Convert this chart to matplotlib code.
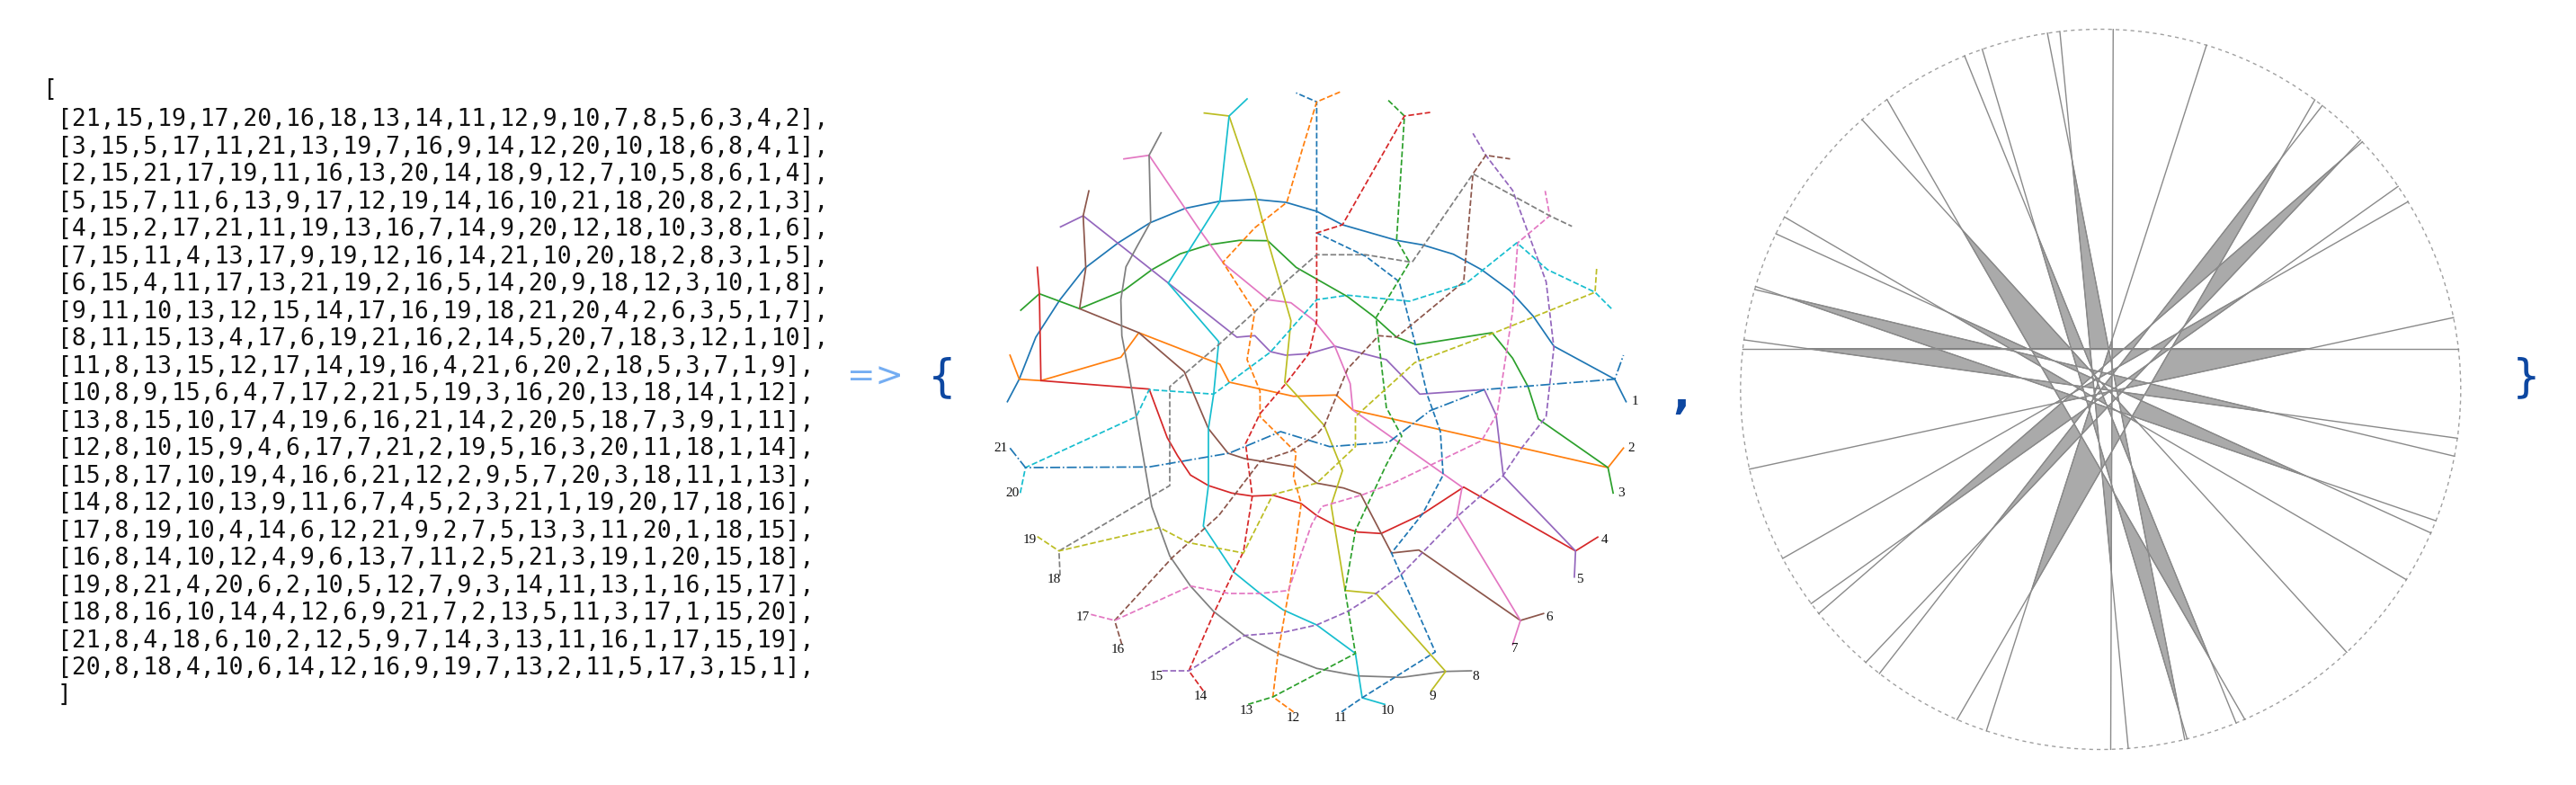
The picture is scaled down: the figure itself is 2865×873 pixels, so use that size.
import numpy as np
import matplotlib
matplotlib.use('Agg')
import matplotlib.pyplot as plt
from matplotlib.patches import Polygon, Circle
from itertools import combinations

# ---------------- data ----------------
matrix_rows = [
    [21,15,19,17,20,16,18,13,14,11,12,9,10,7,8,5,6,3,4,2],
    [3,15,5,17,11,21,13,19,7,16,9,14,12,20,10,18,6,8,4,1],
    [2,15,21,17,19,11,16,13,20,14,18,9,12,7,10,5,8,6,1,4],
    [5,15,7,11,6,13,9,17,12,19,14,16,10,21,18,20,8,2,1,3],
    [4,15,2,17,21,11,19,13,16,7,14,9,20,12,18,10,3,8,1,6],
    [7,15,11,4,13,17,9,19,12,16,14,21,10,20,18,2,8,3,1,5],
    [6,15,4,11,17,13,21,19,2,16,5,14,20,9,18,12,3,10,1,8],
    [9,11,10,13,12,15,14,17,16,19,18,21,20,4,2,6,3,5,1,7],
    [8,11,15,13,4,17,6,19,21,16,2,14,5,20,7,18,3,12,1,10],
    [11,8,13,15,12,17,14,19,16,4,21,6,20,2,18,5,3,7,1,9],
    [10,8,9,15,6,4,7,17,2,21,5,19,3,16,20,13,18,14,1,12],
    [13,8,15,10,17,4,19,6,16,21,14,2,20,5,18,7,3,9,1,11],
    [12,8,10,15,9,4,6,17,7,21,2,19,5,16,3,20,11,18,1,14],
    [15,8,17,10,19,4,16,6,21,12,2,9,5,7,20,3,18,11,1,13],
    [14,8,12,10,13,9,11,6,7,4,5,2,3,21,1,19,20,17,18,16],
    [17,8,19,10,4,14,6,12,21,9,2,7,5,13,3,11,20,1,18,15],
    [16,8,14,10,12,4,9,6,13,7,11,2,5,21,3,19,1,20,15,18],
    [19,8,21,4,20,6,2,10,5,12,7,9,3,14,11,13,1,16,15,17],
    [18,8,16,10,14,4,12,6,9,21,7,2,13,5,11,3,17,1,15,20],
    [21,8,4,18,6,10,2,12,5,9,7,14,3,13,11,16,1,17,15,19],
    [20,8,18,4,10,6,14,12,16,9,19,7,13,2,11,5,17,3,15,1],
]

# middle drawing: one traced polyline per curve (stub end, fork, ..., fork, stub end)
curve_paths = [
    [(1808.5,446.7),(1795.9,421.7),(1728.2,385),(1705.3,351.7),(1679.5,323.3),(1647.9,300),
     (1616.4,282.7),(1582,272.3),(1553.3,267.3),(1493.1,250),(1464.4,235),(1430,225),
     (1395.6,221.7),(1355.5,224),(1318.2,231.7),(1279.2,247.7),(1243.7,270),(1206.4,298.3),
     (1178.9,333.3),(1152,375),(1133.6,421.7),(1120.4,446.7)],
    [(1805.6,498.3),(1788.4,520),(1670.9,493.3),(1504.6,456),(1486.2,439.3),(1438.6,440.7),
     (1367,425),(1356.7,405),(1266.6,370),(1246.6,397.3),(1157.7,423.3),(1133.6,421.7),(1123.3,395)],
    [(1794.1,548.3),(1788.4,520),(1711,466),(1699.5,430),(1682.3,398.3),(1659.4,370),
     (1575.1,383.3),(1553.3,375),(1527.5,351.7),(1498.9,330),(1441.5,297.3),(1410,267.7),
     (1378.4,267.3),(1344,272.3),(1312.5,282.3),(1281,300),(1249.4,323.3),(1200.7,343.3),
     (1156,326.7),(1135.3,345)],
    [(1777,597.3),(1752.3,612.7),(1627.9,541.7),(1582,571.7),(1536.1,593.3),(1510.3,591.7),
     (1484.5,584),(1464.4,573.3),(1447.2,560),(1415.7,550.7),(1392.8,551.7),(1369.8,548.3),
     (1344,540),(1324,528.3),(1309.6,506.7),(1298.2,486.7),(1278.1,432.7),(1157.7,423.3),
     (1156,326.7),(1153.7,297.3)],
    [(1751,641.7),(1752.3,612.7),(1672,529.3),(1664,461.7),(1650.8,433.3),(1579.1,438.3),
     (1541.9,400),(1484.5,385),(1455.8,393.3),(1430,395),(1412.8,391),(1395.6,373.3),
     (1375.6,375),(1204.7,240),(1179.5,252.3)],
    [(1716.7,682.3),(1691,690),(1578,611.7),(1547.6,615),(1513.2,549.3),(1494.3,542.7),
     (1464.4,537.3),(1441.5,519.3),(1384.2,510),(1365.8,504),(1344,476.7),(1317.1,413.3),
     (1266.6,370),(1200.7,343.3),(1207.6,298.3),(1204.7,240),(1211,212.3)],
    [(1682.3,716.7),(1691,690),(1620.4,573.3),(1626.1,541.7),(1504.6,456),(1501.7,426.7),
     (1484.5,385),(1461.6,356.7),(1435.8,336.7),(1410,333.3),(1361.2,293.3),(1332.6,253.3),
     (1278,172.7),(1250,176.7)],
    [(1636.5,746),(1607.8,746.7),(1559,753.3),(1510.3,751.7),(1464.4,743.3),(1421.4,726.7),
     (1384.2,706.7),(1349.8,680),(1324,651.7),(1301,618.3),(1281,563.3),(1269.5,496.7),
     (1255.2,413.3),(1247.7,373.3),(1246.6,333.3),(1252.3,296.7),(1265,273.3),(1279.8,246.7),
     (1278,172.7),(1291.3,147.7)],
    [(1591.7,768.3),(1607.8,746.7),(1530.4,660),(1496,656.7),(1484.5,586.7),(1480.5,561.7),
     (1493.1,523.3),(1473,473.3),(1428.9,425),(1435.8,356.7),(1410,267.7),(1395.6,213.3),
     (1367,129),(1339.4,125.7)],
    [(1540,783.3),(1515,776),(1507.5,726.7),(1464.4,695),(1427.2,678.3),(1401.4,660),
     (1372.7,636.7),(1338.3,585),(1344,540),(1344,476.7),(1349.8,438.3),(1355.5,380),
     (1299.3,315),(1356.7,224),(1367,129),(1387,110)],
    [(1492,791.7),(1515,776),(1596.3,725),(1547.6,615),(1582,571.7),(1605,528.3),(1602,480),
     (1587.7,440),(1573.4,380),(1556.2,313.3),(1518.9,285),(1464.4,259),(1464.4,113.3),
     (1441.5,103.3)],
    [(1438.6,791.7),(1415.7,775),(1421.4,726.7),(1435.8,643.3),(1447.2,560),(1438.6,530),
     (1441.5,503.3),(1401.4,463.3),(1401.4,435),(1387,400),(1395.6,346.7),(1360.1,291.7),
     (1395.6,253.3),(1431.2,225),(1447.2,170),(1464.4,113.3),(1490.3,102.3)],
    [(1388.2,783.3),(1415.7,775),(1507.5,726.7),(1496,656.7),(1507.5,590),(1541.9,516.7),
     (1559,485),(1541.9,453.3),(1530.4,353.3),(1567.7,291.7),(1553.3,266.7),(1562,129),
     (1542.4,110)],
    [(1338.3,768.3),(1322.2,746),(1350.9,680),(1383,613.3),(1392.8,551.7),(1385.3,493.3),
     (1401.4,460),(1430,426.7),(1455.8,393.3),(1464.4,356.7),(1464.4,259),(1493.1,250),
     (1562,129),(1590.6,125)],
    [(1292.4,746),(1322.2,746),(1384.2,706.7),(1427.2,703.3),(1464.4,695),(1498.9,680),
     (1530.4,660),(1559,638.3),(1622.1,573.3),(1670.9,530),(1691,500),(1719.6,463.3),
     (1728.2,386.7),(1719.6,313.3),(1702.4,266.7),(1682.3,211.7),(1652.5,172.7),(1638.2,148.3)],
    [(1247.7,716.7),(1239.7,690),(1303.9,620),(1355.5,573.3),(1401.4,513.3),(1435.8,501.7),
     (1464.4,483.3),(1473,473.3),(1498.9,410),(1533.3,373.3),(1553.3,375),(1627.9,313.3),
     (1638.2,193.3),(1652.5,172.7),(1679.5,176.7)],
    [(1213.3,683.3),(1239.7,690),(1324,651.7),(1367,660),(1401.4,660),(1432.9,656.7),
     (1458.7,583.3),(1470.2,563.3),(1516.1,550),(1550.5,536.7),(1647.9,490),(1665.1,460),
     (1682.3,346.7),(1688,270),(1723.6,240),(1718.5,212.3)],
    [(1179,640),(1177.8,612.7),(1301,540),(1301,486.7),(1301,430),(1355.5,383.3),
     (1395.6,346.7),(1430,313.3),(1464.4,283.3),(1518.9,283.3),(1570.5,291.7),(1638.2,193.3),
     (1723.6,240),(1748.3,251.7)],
    [(1153.7,596.7),(1177.8,612.7),(1289.6,586.7),(1321.1,603.3),(1383,615),(1415.7,550),
     (1464.4,537.3),(1507.5,496.7),(1507.5,463.3),(1573.4,403.3),(1662.3,370),(1774,325),
     (1775.8,298.3)],
    [(1134.7,548.3),(1140.5,520),(1263.8,463.3),(1278.1,433.3),(1349.8,438.3),(1412.8,391.7),
     (1464.4,333.3),(1498.9,328.3),(1567.7,335),(1630.7,315),(1687,270),(1721.3,300),
     (1774,325),(1794,345)],
    [(1123.3,498.3),(1140.5,520),(1278,519.3),(1367,504),(1424.3,480),(1478.8,496.7),
     (1544.7,491.7),(1590.6,456.7),(1650.8,433.3),(1795.9,421.7),(1805.6,395)],
]
curve_labels = [str(i) for i in range(1, 22)]
label_xy = [(1818,446.7),(1814,499),(1802.7,549),(1784.4,600),(1757,645),(1723.6,686.7),
            (1685.2,721.7),(1641,752.3),(1593.5,775),(1543,790.7),(1491.4,798.3),(1438.6,798.3),
            (1385.9,790.7),(1335.4,775),(1286.7,752.7),(1243.7,722.3),(1204.7,686.7),(1172,645),
            (1145,600),(1126,549),(1113.5,499)]

# right drawing: chord end angles (degrees, counter-clockwise from +x)
chord_start_deg = [-167.2,-152.0,-143.5,-141.5,-130.7,-127.9,-113.5,-108.5,-88.4,-85.6,-76.5,
                   -76.1,-67.9,-66.4,-46.9,-31.9,-23.5,-21.4,-10.7,-7.8,6.5]
chord_end_deg = [11.5,31.4,34.3,43.4,43.8,52.0,53.5,72.9,88.0,96.5,98.5,
                 109.2,112.2,126.4,131.5,151.4,154.4,163.4,163.9,172.1,173.5]

# ---------------- figure ----------------
W, H = 2865, 873
fig = plt.figure(figsize=(W/100, H/100), dpi=100)
ax = fig.add_axes([0, 0, 1, 1])
ax.set_xlim(0, W)
ax.set_ylim(H, 0)
ax.axis('off')

mono = dict(family='DejaVu Sans Mono', fontsize=19, va='center', ha='left', color='#111111')
ax.text(48, 100, '[', **mono)
for r, row in enumerate(matrix_rows):
    s = '[' + ','.join(str(v) for v in row) + '],'
    ax.text(64, 133 + 30.5 * r, s, **mono)
ax.text(64, 773, ']', **mono)

ax.text(974, 420, '=>', family='DejaVu Sans', fontsize=27, color='#74adf2',
        va='center', ha='center')
ax.text(1048, 420, '{', family='DejaVu Sans', fontsize=36, color='#0d47a1',
        va='center', ha='center')
ax.text(1870, 440, ',', family='DejaVu Sans', fontsize=36, color='#0d47a1',
        va='center', ha='center', fontweight='bold')
ax.text(2810, 420, '}', family='DejaVu Sans', fontsize=36, color='#0d47a1',
        va='center', ha='center')

# middle network
tab = plt.get_cmap('tab10').colors
for k, path in enumerate(curve_paths):
    ls = '-' if k < 10 else ('--' if k < 20 else '-.')
    xs, ys = zip(*path)
    ax.plot(xs, ys, color=tab[k % 10], lw=1.25, ls=ls, solid_joinstyle='round')
for lab, (x, y) in zip(curve_labels, label_xy):
    ax.text(x, y, lab, family='Liberation Serif', fontsize=11, ha='center', va='center',
            color='#111111')

# right: chord arrangement
cx, cy, R = 2336.3, 433.0, 400.5
ax.add_patch(Circle((cx, cy), R, fill=False, ls=(0, (3, 3)), ec='#a0a0a0', lw=1.0))
P = []
D = []
for a, b in zip(chord_start_deg, chord_end_deg):
    p1 = np.array([cx + R*np.cos(np.radians(a)), cy - R*np.sin(np.radians(a))])
    p2 = np.array([cx + R*np.cos(np.radians(b)), cy - R*np.sin(np.radians(b))])
    P.append(p1)
    D.append(p2 - p1)

def cross(u, v):
    return u[0]*v[1] - u[1]*v[0]

def inter(i, j):
    den = cross(D[i], D[j])
    t = cross(P[j] - P[i], D[j]) / den
    return P[i] + t * D[i]

n = len(P)
for i, j, k in combinations(range(n), 3):
    A, B, C = inter(i, j), inter(j, k), inter(i, k)
    ok = True
    for l in range(n):
        if l in (i, j, k):
            continue
        s = [cross(D[l], V - P[l]) / np.linalg.norm(D[l]) for V in (A, B, C)]
        if max(s) > 1e-6 and min(s) < -1e-6:
            ok = False
            break
    if ok:
        ax.add_patch(Polygon([A, B, C], closed=True, fc='#aaaaaa', ec='#666666', lw=0.6))

for p, d in zip(P, D):
    ax.plot([p[0], p[0] + d[0]], [p[1], p[1] + d[1]], color='#8a8a8a', lw=1.0)

fig.savefig('out.png', dpi=100)
